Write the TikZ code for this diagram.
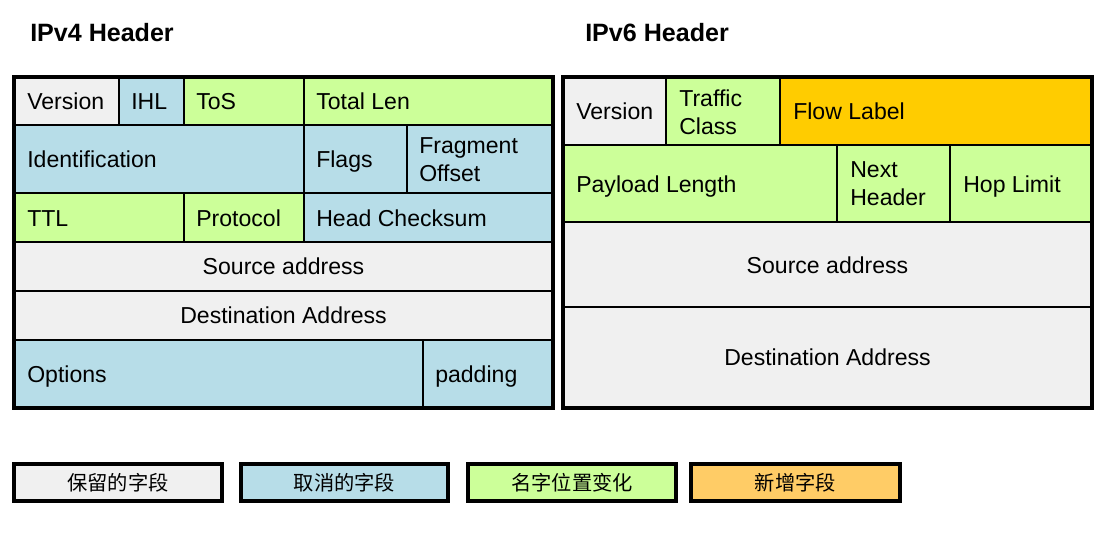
\documentclass[tikz,border=0pt]{standalone}
\usepackage{fontspec}
\setmainfont{Liberation Sans}
\newfontfamily\cjk{Noto Sans CJK SC}

\definecolor{keepgray}{HTML}{F0F0F0}
\definecolor{dropblue}{HTML}{B7DDE8}
\definecolor{namegreen}{HTML}{CCFF99}
\definecolor{newgold}{HTML}{FFCC00}
\definecolor{legendgold}{HTML}{FFCC66}

\tikzset{
    field/.style={draw=black, line width=1pt},
    frame/.style={draw=black, line width=3pt},
    fieldtext/.style={anchor=west, inner sep=0pt, text height=12.4pt, text depth=0pt,
        font=\fontsize{17.3}{20}\selectfont},
    twolines/.style={anchor=west, inner sep=0pt, align=left,
        font=\fontsize{17.3}{21}\selectfont},
    midtext/.style={fieldtext, anchor=center},
    heading/.style={anchor=west, inner sep=0pt, font=\fontsize{18.8}{20}\selectfont\bfseries},
    legendbox/.style={draw=black, line width=2.8pt},
    legendtext/.style={inner sep=0pt, font=\cjk\fontsize{15.2}{17}\selectfont}
}

\begin{document}
\begin{tikzpicture}[x=0.75pt, y=-0.75pt]
    \useasboundingbox (0, 0) rectangle (1117, 534);

    % 标题
    \node[heading] (v4title) at (30, 33) {IPv4 Header};
    \node[heading] (v6title) at (585, 33) {IPv6 Header};

    % IPv4 字段
    \foreach \xa/\ya/\xb/\yb/\col in {
        15/78/119/125/keepgray, 119/78/184/125/dropblue, 184/78/304/125/namegreen, 304/78/552/125/namegreen,
        15/125/304/193/dropblue, 304/125/407/193/dropblue, 407/125/552/193/dropblue,
        15/193/184/242/namegreen, 184/193/304/242/namegreen, 304/193/552/242/dropblue,
        15/242/552/291/keepgray, 15/291/552/340/keepgray,
        15/340/423/407/dropblue, 423/340/552/407/dropblue}
        \draw[field, fill=\col] (\xa, \ya) rectangle (\xb, \yb);
    \draw[frame] (14, 77) rectangle (553, 408);

    \node[fieldtext] (v4ver) at (27, 101.5) {Version};
    \node[fieldtext] (v4ihl) at (131, 101.5) {IHL};
    \node[fieldtext] (v4tos) at (196, 101.5) {ToS};
    \node[fieldtext] (v4len) at (316, 101.5) {Total Len};
    \node[fieldtext] (v4id) at (27, 159.5) {Identification};
    \node[fieldtext] (v4flags) at (316, 159.5) {Flags};
    \node[twolines] (v4frag) at (419, 160) {Fragment\\Offset};
    \node[fieldtext] (v4ttl) at (27, 218) {TTL};
    \node[fieldtext] (v4proto) at (196, 218) {Protocol};
    \node[fieldtext] (v4sum) at (316, 218) {Head Checksum};
    \node[midtext] (v4src) at (283.5, 266.5) {Source address};
    \node[midtext] (v4dst) at (283.5, 315.5) {Destination Address};
    \node[fieldtext] (v4opt) at (27, 374.5) {Options};
    \node[fieldtext] (v4pad) at (435, 374.5) {padding};

    % IPv6 字段
    \foreach \xa/\ya/\xb/\yb/\col in {
        564/78/666/145/keepgray, 666/78/780/145/namegreen, 780/78/1091/145/newgold,
        564/145/837/222/namegreen, 837/145/950/222/namegreen, 950/145/1091/222/namegreen,
        564/222/1091/307/keepgray, 564/307/1091/407/keepgray}
        \draw[field, fill=\col] (\xa, \ya) rectangle (\xb, \yb);
    \draw[frame] (563, 77) rectangle (1092, 408);

    \node[fieldtext] (v6ver) at (576, 111.5) {Version};
    \node[twolines] (v6tc) at (679, 112) {Traffic\\Class};
    \node[fieldtext] (v6flow) at (793, 111.5) {Flow Label};
    \node[fieldtext] (v6len) at (576, 184) {Payload Length};
    \node[twolines] (v6next) at (850, 184) {Next\\Header};
    \node[fieldtext] (v6hop) at (963, 184) {Hop Limit};
    \node[midtext] (v6src) at (827.5, 265) {Source address};
    \node[midtext] (v6dst) at (827.5, 357.5) {Destination Address};

    % 图例
    \foreach \xa/\xb/\col/\txt/\nm in {
        14/222/keepgray/保留的字段/keep, 241/448/dropblue/取消的字段/drop,
        468/676/namegreen/名字位置变化/rename, 691/900/legendgold/新增字段/added} {
        \draw[legendbox, fill=\col] (\xa, 464) rectangle (\xb, 501);
        \node[legendtext] (leg\nm) at ({(\xa+\xb)/2}, 483) {\txt};
    }
\end{tikzpicture}
\end{document}
